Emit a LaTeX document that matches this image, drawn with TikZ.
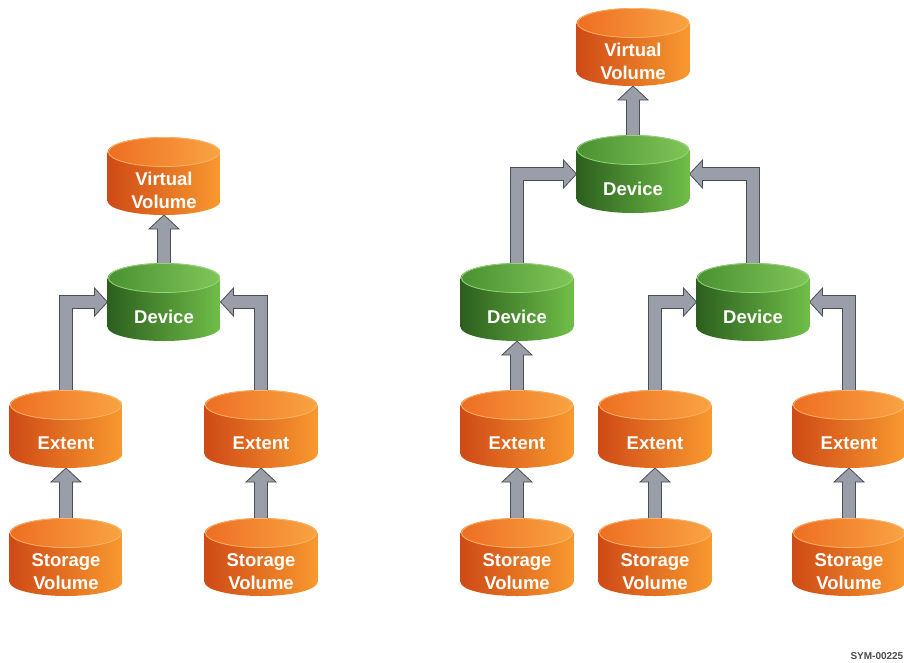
\documentclass[tikz,border=0pt]{standalone}
\usepackage{fontspec}
\setmainfont{Liberation Sans}
\usetikzlibrary{calc}
\pgfdeclarelayer{background}
\pgfsetlayers{background,main}
\definecolor{orL}{HTML}{CF4A16}
\definecolor{orM}{HTML}{EE6A20}
\definecolor{orR}{HTML}{F8992F}
\definecolor{ortL}{HTML}{EE6E22}
\definecolor{ortR}{HTML}{F9A443}
\definecolor{orRim}{HTML}{FBB46A}
\definecolor{grL}{HTML}{2C5F1E}
\definecolor{grM}{HTML}{47942E}
\definecolor{grR}{HTML}{70BE48}
\definecolor{grtL}{HTML}{4A9232}
\definecolor{grtR}{HTML}{80C658}
\definecolor{grRim}{HTML}{9AD47A}
\definecolor{arrfill}{HTML}{999EA8}
\definecolor{arrline}{HTML}{4A4E56}
\tikzset{
  cylbox/.style={rectangle, inner sep=0pt, outer sep=0pt,
    minimum width=113pt, minimum height=78pt},
  orangecyl/.style={cylbox, path picture={
    \shade[left color=orL, middle color=orM, right color=orR]
      ($(path picture bounding box.north west)+(0,-15)$) --
      ($(path picture bounding box.south west)+(0,14)$)
      arc[start angle=180, end angle=360, x radius=56.5, y radius=14] --
      ($(path picture bounding box.north east)+(0,-15)$) -- cycle;
    \shade[left color=ortL, right color=ortR]
      ($(path picture bounding box.north)+(0,-15)$) ellipse[x radius=56.5, y radius=15];
    \draw[orRim, line width=0.7pt]
      ($(path picture bounding box.north)+(0,-15)$) ellipse[x radius=55.5, y radius=14.5];
  }},
  greencyl/.style={cylbox, path picture={
    \shade[left color=grL, middle color=grM, right color=grR]
      ($(path picture bounding box.north west)+(0,-15)$) --
      ($(path picture bounding box.south west)+(0,14)$)
      arc[start angle=180, end angle=360, x radius=56.5, y radius=14] --
      ($(path picture bounding box.north east)+(0,-15)$) -- cycle;
    \shade[left color=grtL, right color=grtR]
      ($(path picture bounding box.north)+(0,-15)$) ellipse[x radius=56.5, y radius=15];
    \draw[grRim, line width=0.7pt]
      ($(path picture bounding box.north)+(0,-15)$) ellipse[x radius=55.5, y radius=14.5];
  }},
  cyltext/.style={text=white, font=\fontsize{18.5}{22.5}\selectfont\bfseries,
    align=center, inner sep=0pt},
  fatarr/.style={fill=arrfill, draw=arrline, line width=0.8pt, line join=miter}
}
% cylinder: name, x, top y (pixels), style, text
\newcommand\cyl[5]{%
  \node[#4] (#1) at (#2,-#3-39) {};
  \node[cyltext] (#1t) at (#2,-#3-53.5) {#5};
}
% straight arrow up from node #1 to node #2
\newcommand\vup[2]{%
  \draw[fatarr] let \p1=(#1.north), \p2=(#2.south) in
    (\x1-6.5pt,\y1-14pt) -- (\x1-6.5pt,\y2-14pt) -- (\x1-15pt,\y2-14pt) --
    (\x1,\y2) -- (\x1+15pt,\y2-14pt) -- (\x1+6.5pt,\y2-14pt) --
    (\x1+6.5pt,\y1-14pt) -- cycle;
}
% elbow arrow: up from #1, then right to west side of #2
\newcommand\elbowR[2]{%
  \draw[fatarr] let \p1=(#1.north), \p2=(#2.west) in
    (\x1-6.5pt,\y1-14pt) -- (\x1-6.5pt,\y2+6.5pt) -- (\x2-13pt,\y2+6.5pt) --
    (\x2-13pt,\y2+14pt) -- (\x2,\y2) -- (\x2-13pt,\y2-14pt) --
    (\x2-13pt,\y2-6.5pt) -- (\x1+6.5pt,\y2-6.5pt) -- (\x1+6.5pt,\y1-14pt) -- cycle;
}
% elbow arrow: up from #1, then left to east side of #2
\newcommand\elbowL[2]{%
  \draw[fatarr] let \p1=(#1.north), \p2=(#2.east) in
    (\x1+6.5pt,\y1-14pt) -- (\x1+6.5pt,\y2+6.5pt) -- (\x2+13pt,\y2+6.5pt) --
    (\x2+13pt,\y2+14pt) -- (\x2,\y2) -- (\x2+13pt,\y2-14pt) --
    (\x2+13pt,\y2-6.5pt) -- (\x1-6.5pt,\y2-6.5pt) -- (\x1-6.5pt,\y1-14pt) -- cycle;
}
\begin{document}
\begin{tikzpicture}[x=1pt,y=1pt]
\useasboundingbox (0,0) rectangle (904,-662);
% left tree
\cyl{vvL}{164}{137}{orangecyl}{Virtual\\Volume}
\cyl{devL}{164}{263}{greencyl}{Device}
\cyl{extLa}{66}{390}{orangecyl}{Extent}
\cyl{extLb}{261}{390}{orangecyl}{Extent}
\cyl{stLa}{66}{518}{orangecyl}{Storage\\Volume}
\cyl{stLb}{261}{518}{orangecyl}{Storage\\Volume}
% right tree
\cyl{vvR}{633}{8}{orangecyl}{Virtual\\Volume}
\cyl{devR}{633}{135}{greencyl}{Device}
\cyl{devRa}{517}{263}{greencyl}{Device}
\cyl{devRb}{753}{263}{greencyl}{Device}
\cyl{extRa}{517}{390}{orangecyl}{Extent}
\cyl{extRb}{655}{390}{orangecyl}{Extent}
\cyl{extRc}{849}{390}{orangecyl}{Extent}
\cyl{stRa}{517}{518}{orangecyl}{Storage\\Volume}
\cyl{stRb}{655}{518}{orangecyl}{Storage\\Volume}
\cyl{stRc}{849}{518}{orangecyl}{Storage\\Volume}
\begin{pgfonlayer}{background}
  \fill[white] (0,0) rectangle (904,-662);
  \vup{devL}{vvL}
  \elbowR{extLa}{devL}
  \elbowL{extLb}{devL}
  \vup{stLa}{extLa}
  \vup{stLb}{extLb}
  \vup{devR}{vvR}
  \elbowR{devRa}{devR}
  \elbowL{devRb}{devR}
  \vup{extRa}{devRa}
  \elbowR{extRb}{devRb}
  \elbowL{extRc}{devRb}
  \vup{stRa}{extRa}
  \vup{stRb}{extRb}
  \vup{stRc}{extRc}
\end{pgfonlayer}
\node[text=black!70, font=\fontsize{10}{11}\selectfont\bfseries, anchor=east, inner sep=0pt]
  (sym) at (903.5,-656) {SYM-00225};
\end{tikzpicture}
\end{document}
